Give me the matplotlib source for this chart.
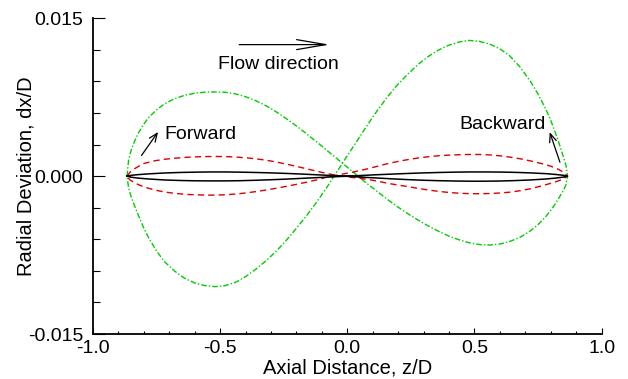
import matplotlib
matplotlib.use("Agg")
import matplotlib.pyplot as plt
import numpy as np

plt.rcParams['font.family'] = ['Liberation Sans', 'DejaVu Sans']
plt.rcParams['axes.unicode_minus'] = False

# ---- data (y values in units of 1e-3) ----
green_z = [-0.866, -0.86, -0.85, -0.835, -0.82, -0.80, -0.78, -0.75, -0.72, -0.68, -0.64, -0.60,
           -0.56, -0.52, -0.48, -0.44, -0.40, -0.36, -0.32, -0.28, -0.24, -0.20, -0.16, -0.12,
           -0.08, -0.04, 0.0, 0.04, 0.08, 0.12, 0.16, 0.20, 0.24, 0.28, 0.32, 0.36, 0.40, 0.44,
           0.48, 0.52, 0.56, 0.60, 0.64, 0.68, 0.72, 0.75, 0.78, 0.80, 0.82, 0.835, 0.85, 0.86, 0.866]
green_a_y = [0.0, 1.5, 2.45, 3.4, 4.15, 4.95, 5.6, 6.3, 6.85, 7.35, 7.68, 7.88,
             7.98, 8.0, 7.97, 7.82, 7.55, 7.17, 6.7, 6.12, 5.47, 4.77, 4.02, 3.25,
             2.45, 1.65, 0.85, 0.05, -0.75, -1.5, -2.25, -2.95, -3.6, -4.2, -4.75, -5.25, -5.7, -6.05,
             -6.33, -6.5, -6.55, -6.45, -6.2, -5.8, -5.2, -4.6, -3.85, -3.25, -2.55, -1.95, -1.35, -0.8, 0.0]
green_b_y = [0.0, -1.1, -1.95, -2.9, -3.8, -4.95, -5.9, -7.1, -8.1, -9.0, -9.7, -10.15,
             -10.4, -10.5, -10.4, -10.1, -9.55, -8.85, -8.05, -7.15, -6.1, -4.95, -3.75, -2.45,
             -1.05, 0.45, 1.95, 3.4, 4.9, 6.3, 7.6, 8.75, 9.75, 10.65, 11.4, 12.0, 12.45, 12.75,
             12.9, 12.8, 12.55, 12.1, 11.4, 10.35, 9.0, 7.8, 6.4, 5.3, 4.0, 2.95, 1.8, 1.0, 0.0]

red_z = [-0.866, -0.855, -0.84, -0.82, -0.80, -0.76, -0.72, -0.68, -0.64, -0.60, -0.56, -0.52,
         -0.48, -0.44, -0.40, -0.36, -0.32, -0.28, -0.24, -0.20, -0.16, -0.12, -0.08, -0.04,
         0.0, 0.04, 0.08, 0.12, 0.16, 0.20, 0.24, 0.28, 0.32, 0.36, 0.40, 0.44, 0.48, 0.52,
         0.56, 0.60, 0.64, 0.68, 0.72, 0.76, 0.80, 0.83, 0.85, 0.866]
red_a_y = [0.0, 0.35, 0.65, 0.95, 1.2, 1.45, 1.6, 1.7, 1.78, 1.83, 1.86, 1.87,
           1.86, 1.82, 1.75, 1.65, 1.52, 1.35, 1.15, 0.93, 0.7, 0.47, 0.25, 0.07,
           -0.07, -0.18, -0.3, -0.48, -0.68, -0.85, -1.0, -1.17, -1.32, -1.45, -1.55, -1.62, -1.66, -1.67,
           -1.65, -1.6, -1.52, -1.38, -1.2, -0.95, -0.68, -0.45, -0.25, 0.0]
red_b_y = [0.0, -0.35, -0.58, -0.82, -1.02, -1.3, -1.5, -1.63, -1.72, -1.77, -1.8, -1.8,
           -1.77, -1.7, -1.6, -1.47, -1.32, -1.15, -0.97, -0.78, -0.57, -0.35, -0.1, 0.1,
           0.28, 0.48, 0.7, 0.95, 1.2, 1.4, 1.58, 1.73, 1.85, 1.94, 2.0, 2.04, 2.06, 2.06,
           2.02, 1.93, 1.81, 1.65, 1.45, 1.22, 0.95, 0.65, 0.38, 0.0]

black_z = [-0.866, -0.85, -0.82, -0.78, -0.72, -0.66, -0.60, -0.54, -0.48, -0.42, -0.36, -0.30,
           -0.24, -0.18, -0.12, -0.06, 0.0, 0.06, 0.12, 0.18, 0.24, 0.30, 0.36, 0.42, 0.48,
           0.54, 0.60, 0.66, 0.72, 0.78, 0.82, 0.85, 0.866]
black_a_y = [0.0, 0.08, 0.15, 0.22, 0.3, 0.35, 0.38, 0.4, 0.4, 0.38, 0.35, 0.31,
             0.26, 0.2, 0.13, 0.06, -0.02, -0.1, -0.18, -0.26, -0.33, -0.39, -0.43, -0.46, -0.48,
             -0.48, -0.46, -0.42, -0.36, -0.27, -0.18, -0.09, 0.0]
black_b_y = [0.0, -0.1, -0.19, -0.27, -0.36, -0.41, -0.44, -0.45, -0.45, -0.43, -0.39, -0.34,
             -0.28, -0.21, -0.14, -0.07, 0.0, 0.07, 0.14, 0.2, 0.26, 0.31, 0.35, 0.38, 0.4,
             0.4, 0.39, 0.36, 0.31, 0.24, 0.16, 0.08, 0.0]

x_ticks = [-1.0, -0.5, 0.0, 0.5, 1.0]
x_ticklabels = ["-1.0", "-0.5", "0.0", "0.5", "1.0"]
y_ticks = [-0.015, 0.0, 0.015]
y_ticklabels = ["-0.015", "0.000", "0.015"]


def loop(z, ya, yb):
    zz = list(z) + list(z[::-1])
    yy = list(ya) + list(yb[::-1])
    return np.array(zz), np.array(yy) * 1e-3


fig = plt.figure(figsize=(6.28, 3.79), dpi=100)
ax = fig.add_axes([0.148, 0.1187, 0.810, 0.833])

z, y = loop(green_z, green_a_y, green_b_y)
ax.plot(z, y, color='#00cc00', lw=1.0, dashes=(4, 1.5, 1, 1.5))
z, y = loop(red_z, red_a_y, red_b_y)
ax.plot(z, y, color='#dd0000', lw=1.0, dashes=(4.5, 3))
z, y = loop(black_z, black_a_y, black_b_y)
ax.plot(z, y, color='black', lw=1.1)

ax.set_xlim(-1.0, 1.0)
ax.set_ylim(-0.015, 0.015)
ax.set_xticks(x_ticks)
ax.set_xticklabels(x_ticklabels)
ax.set_yticks(y_ticks)
ax.set_yticklabels(y_ticklabels)
ax.set_xticks(np.arange(-1.0, 1.0001, 0.1), minor=True)
ax.set_yticks(np.arange(-0.015, 0.01501, 0.003), minor=True)

for s in ['top', 'right']:
    ax.spines[s].set_visible(False)
for s in ['left', 'bottom']:
    ax.spines[s].set_linewidth(1.3)

ax.tick_params(axis='both', which='both', direction='in', width=0.8, labelsize=14)
ax.tick_params(axis='y', which='major', length=8.6, pad=7)
ax.tick_params(axis='y', which='minor', length=5.0)
ax.tick_params(axis='x', which='major', length=4.3, pad=4)
ax.tick_params(axis='x', which='minor', length=2.2)

ax.set_xlabel("Axial Distance, z/D", fontsize=14.5)
ax.set_ylabel("Radial Deviation, dx/D", fontsize=14.5)
ax.xaxis.set_label_coords(0.5, -0.076)
ax.yaxis.set_label_coords(-0.112, 0.5)

# annotations
ax.annotate('', xy=(-0.07, 0.0125), xytext=(-0.425, 0.0125),
            arrowprops=dict(arrowstyle='->,head_length=2.1,head_width=0.36', lw=0.9,
                            color='black', mutation_scale=10, shrinkA=0, shrinkB=0))
ax.text(-0.269, 0.0102, "Flow direction", fontsize=14, ha='center', va='baseline')

ax.annotate('', xy=(-0.744, 0.0042), xytext=(-0.809, 0.00197),
            arrowprops=dict(arrowstyle='->,head_length=0.6,head_width=0.25', lw=0.9,
                            color='black', mutation_scale=10, shrinkA=0, shrinkB=0))
ax.text(-0.720, 0.00356, "Forward", fontsize=14, ha='left', va='baseline')

ax.annotate('', xy=(0.796, 0.00418), xytext=(0.836, 0.00133),
            arrowprops=dict(arrowstyle='->,head_length=0.6,head_width=0.25', lw=0.9,
                            color='black', mutation_scale=10, shrinkA=0, shrinkB=0))
ax.text(0.44, 0.0045, "Backward", fontsize=14, ha='left', va='baseline')

fig.savefig("out.png", dpi=100)
